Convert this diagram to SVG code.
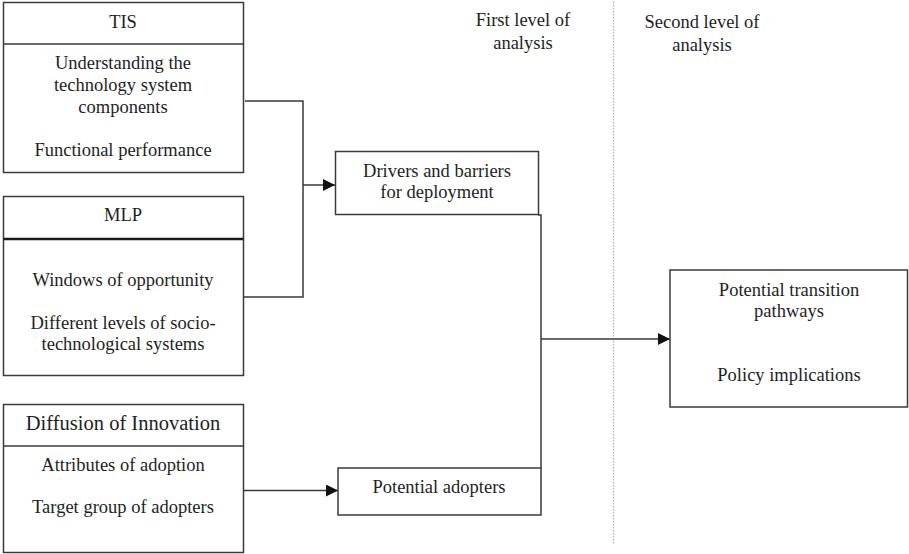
<svg xmlns="http://www.w3.org/2000/svg" width="909" height="554" viewBox="0 0 909 554">
  <style>
    .box { fill: #ffffff; stroke: #3a3a3a; stroke-width: 1.5; }
    .div { stroke: #3a3a3a; stroke-width: 1.5; }
    .div-bold { stroke: #1a1a1a; stroke-width: 2.5; }
    .t { font-family: "Liberation Serif", "Times New Roman", serif; font-size: 18.5px; fill: #1e1e1e; text-anchor: middle; }
    .t-big { font-size: 20.5px; }
    .wire { fill: none; stroke: #3a3a3a; stroke-width: 1.5; }
    .sep { stroke: #b0b0b0; stroke-width: 1.2; stroke-dasharray: 1.5 1.5; }
  </style>
  <defs>
    <marker id="arrow" viewBox="0 0 10 10" refX="10" refY="5" markerWidth="12" markerHeight="12" markerUnits="userSpaceOnUse" orient="auto">
      <path d="M0,0 L10,5 L0,10 Z" fill="#111"/>
    </marker>
  </defs>

  <rect width="909" height="554" fill="#ffffff"/>

  <!-- level separator -->
  <line class="sep" x1="613.5" y1="2" x2="613.5" y2="544"/>

  <!-- level headings -->
  <g id="heading-first">
    <text class="t" x="523" y="26">First level of</text>
    <text class="t" x="523" y="49">analysis</text>
  </g>
  <g id="heading-second">
    <text class="t" x="702" y="28">Second level of</text>
    <text class="t" x="702" y="51">analysis</text>
  </g>

  <!-- connectors -->
  <g id="connectors">
    <path class="wire" d="M245,101 H303 V297 H243"/>
    <line class="wire" x1="303" y1="185" x2="335" y2="185" marker-end="url(#arrow)"/>
    <line class="wire" x1="243" y1="490.5" x2="338" y2="490.5" marker-end="url(#arrow)"/>
    <path class="wire" d="M538,215 H541 V468"/>
    <line class="wire" x1="541" y1="339" x2="670" y2="339" marker-end="url(#arrow)"/>
  </g>

  <!-- TIS -->
  <g id="tis">
    <rect class="box" x="3.5" y="2.5" width="240" height="170"/>
    <line class="div" x1="3.5" y1="44" x2="243.5" y2="44"/>
    <text class="t" x="123" y="28">TIS</text>
    <text class="t" x="123" y="69">Understanding the</text>
    <text class="t" x="123" y="91">technology system</text>
    <text class="t" x="123" y="113">components</text>
    <text class="t" x="123" y="156">Functional performance</text>
  </g>

  <!-- MLP -->
  <g id="mlp">
    <rect class="box" x="3.5" y="196.5" width="240" height="179"/>
    <line class="div-bold" x1="3.5" y1="239" x2="243.5" y2="239"/>
    <text class="t" x="123" y="221">MLP</text>
    <text class="t" x="123" y="286">Windows of opportunity</text>
    <text class="t" x="123" y="329">Different levels of socio-</text>
    <text class="t" x="123" y="350">technological systems</text>
  </g>

  <!-- Diffusion of Innovation -->
  <g id="diffusion">
    <rect class="box" x="3.5" y="404.5" width="240" height="148"/>
    <line class="div" x1="3.5" y1="446" x2="243.5" y2="446"/>
    <text class="t t-big" x="123" y="430">Diffusion of Innovation</text>
    <text class="t" x="123" y="471">Attributes of adoption</text>
    <text class="t" x="123" y="513">Target group of adopters</text>
  </g>

  <!-- Drivers and barriers -->
  <g id="drivers">
    <rect class="box" x="335.5" y="151.5" width="203" height="63"/>
    <text class="t" x="437" y="177">Drivers and barriers</text>
    <text class="t" x="437" y="198">for deployment</text>
  </g>

  <!-- Potential adopters -->
  <g id="adopters">
    <rect class="box" x="338" y="468" width="203" height="47"/>
    <text class="t" x="439" y="493">Potential adopters</text>
  </g>

  <!-- Transition pathways -->
  <g id="pathways">
    <rect class="box" x="670" y="270" width="237.5" height="137"/>
    <text class="t" x="789" y="296">Potential transition</text>
    <text class="t" x="789" y="317">pathways</text>
    <text class="t" x="789" y="381">Policy implications</text>
  </g>
</svg>
